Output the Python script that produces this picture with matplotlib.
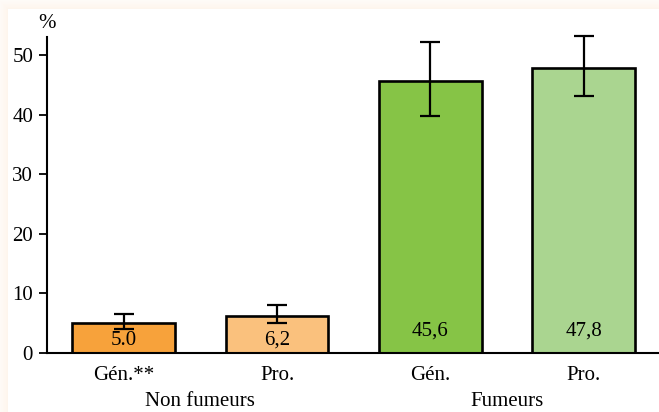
import numpy as np
import matplotlib
matplotlib.use("Agg")
import matplotlib.pyplot as plt

# Prévalence (%) et intervalles de confiance
categories = ["Gén.**", "Pro.", "Gén.", "Pro."]
groups = ["Non fumeurs", "Fumeurs"]
values = [5.0, 6.2, 45.6, 47.8]
value_labels = ["5.0", "6,2", "45,6", "47,8"]
ci_low = [4.0, 5.0, 39.8, 43.1]
ci_high = [6.5, 8.1, 52.1, 53.1]
colors = ["#F7A23B", "#FAC17D", "#86C446", "#AAD590"]

plt.rcParams["font.family"] = ["Liberation Serif", "DejaVu Serif"]

fig = plt.figure(figsize=(6.59, 4.12), dpi=100)

# léger cadre pêche en haut et à gauche
bg = fig.add_axes([0, 0, 1, 1], zorder=-10)
bg.set_axis_off()
h, w = 412, 659
yy, xx = np.mgrid[0:h, 0:w]
d = np.minimum(xx - 8, yy - 9).astype(float)
alpha = np.where(d < 0, np.clip(0.35 + (d + 8) / 8 * 0.45, 0.3, 0.8), 0.0)
img = np.zeros((h, w, 4))
img[..., 0] = 253 / 255
img[..., 1] = 238 / 255
img[..., 2] = 222 / 255
img[..., 3] = alpha * 0.7
bg.imshow(img, extent=[0, 1, 0, 1], aspect="auto", origin="upper")
bg.set_xlim(0, 1)
bg.set_ylim(0, 1)

ax = fig.add_axes([47 / 659, 59 / 412, 1 - 47 / 659, (353 - 37) / 412])
ax.patch.set_alpha(0)

x = np.arange(len(values))
vals = np.array(values)
yerr = [vals - np.array(ci_low), np.array(ci_high) - vals]
ax.bar(x, vals, width=0.67, color=colors, edgecolor="black", linewidth=1.9, zorder=2)
eb = ax.errorbar(x, vals, yerr=yerr, fmt="none", ecolor="black", elinewidth=1.6,
                 capsize=7, capthick=1.6, zorder=3)
for art in eb.lines[1] + eb.lines[2]:
    art.set_clip_on(False)

for xi, v, lab in zip(x, values, value_labels):
    ly = 3.7 if v > 10 else 2.1
    ax.text(xi, ly, lab, ha="center", va="center", fontsize=15, zorder=4)

ax.set_xlim(-0.5, 3.49)
ax.set_ylim(0, 53)
ax.set_yticks([0, 10, 20, 30, 40, 50])
ax.tick_params(axis="y", direction="out", length=6, width=1.3, labelsize=15, pad=4)
ax.set_xticks(x)
ax.set_xticklabels(categories)
ax.tick_params(axis="x", length=0, labelsize=15, pad=9)

for s in ["top", "right"]:
    ax.spines[s].set_visible(False)
ax.spines["left"].set_linewidth(1.5)
ax.spines["bottom"].set_linewidth(1.5)

ax.text(0.0, 1.012, "%", transform=ax.transAxes, ha="center", va="bottom", fontsize=15)

for gi, g in enumerate(groups):
    ax.text(2 * gi + 0.5, -8.2, g, ha="center", va="center", fontsize=15)

fig.savefig("out.png", dpi=100)
